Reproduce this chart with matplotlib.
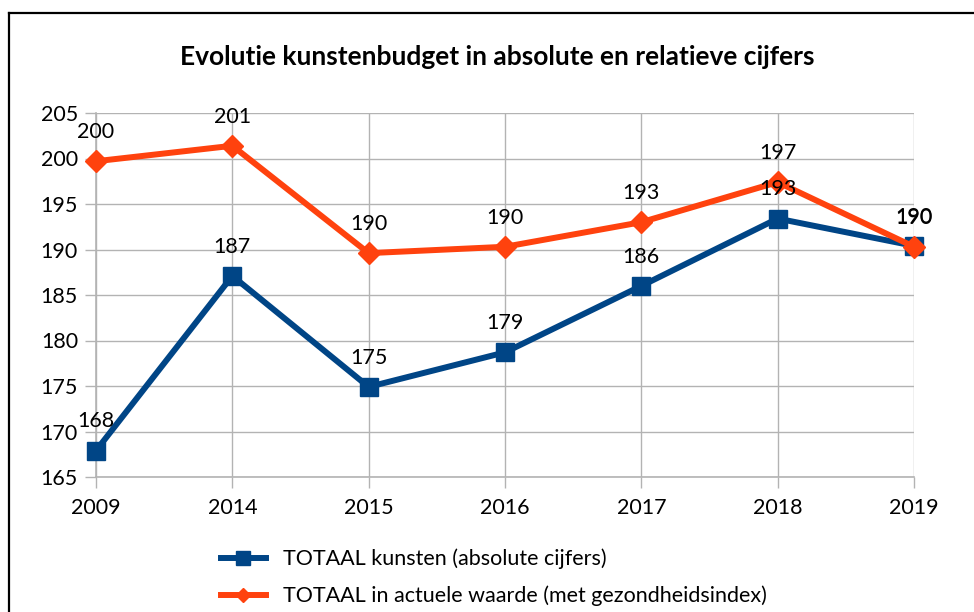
import matplotlib.pyplot as plt
import matplotlib as mpl
from matplotlib.lines import Line2D
from matplotlib.ticker import MultipleLocator

mpl.rcParams['font.family'] = ['Lato', 'DejaVu Sans']

years = ['2009', '2014', '2015', '2016', '2017', '2018', '2019']
absolute = [167.9, 187.1, 174.9, 178.7, 186.0, 193.4, 190.4]
actual = [199.7, 201.4, 189.6, 190.3, 193.0, 197.4, 190.3]
label_abs = 'TOTAAL kunsten (absolute cijfers)'
label_act = 'TOTAAL in actuele waarde (met gezondheidsindex)'
title = 'Evolutie kunstenbudget in absolute en relatieve cijfers'

blue = '#004586'
orange = '#ff420e'
grid_col = '#b3b3b3'
font = 15.5

fig = plt.figure(figsize=(9.74, 6.12), dpi=100)
ax = fig.add_axes([96 / 974, 1 - 477 / 612, (914 - 96) / 974, (477 - 113) / 612])

x = list(range(len(years)))
ax.plot(x, absolute, 's-', color=blue, linewidth=4.3, markersize=13, zorder=3, clip_on=False)
ax.plot(x, actual, 'D-', color=orange, linewidth=4.3, markersize=11, zorder=4, clip_on=False)

for xi, v in zip(x, absolute):
    ax.annotate('%d' % round(v), (xi, v), xytext=(0, 21), textcoords='offset points',
                ha='center', va='center', fontsize=font, zorder=5)
for xi, v in zip(x, actual):
    ax.annotate('%d' % round(v), (xi, v), xytext=(0, 21), textcoords='offset points',
                ha='center', va='center', fontsize=font, zorder=5)

ax.set_xlim(0, 6)
ax.set_ylim(165, 205)
ax.set_xticks(x)
ax.set_xticklabels(years)
ax.yaxis.set_major_locator(MultipleLocator(5))
ax.grid(True, color=grid_col, linewidth=1)
ax.set_axisbelow(True)
for s in ['top', 'right']:
    ax.spines[s].set_visible(False)
for s in ['left', 'bottom']:
    ax.spines[s].set_color(grid_col)
    ax.spines[s].set_linewidth(1.2)
ax.tick_params(axis='both', colors=grid_col, labelcolor='black', labelsize=font,
               length=8, width=1, pad=5)
ax.tick_params(axis='x', pad=7)

fig.text(497 / 974, 1 - 57 / 612, title, ha='center', va='center',
         fontsize=19, fontweight='bold')

handles = [Line2D([], [], color=blue, marker='s', linewidth=4.3, markersize=10),
           Line2D([], [], color=orange, marker='D', linewidth=4.3, markersize=7)]
fig.legend(handles, [label_abs, label_act], loc='upper left',
           bbox_to_anchor=(210 / 974, 1 - 538 / 612), frameon=False, fontsize=font,
           handlelength=2.1, handletextpad=0.8, labelspacing=0.75, borderpad=0)

# outer frame (cropped on right and bottom)
fig.add_artist(Line2D([9 / 974, 9 / 974], [0, 1 - 13 / 612], color='black', linewidth=1.6,
                      transform=fig.transFigure))
fig.add_artist(Line2D([9 / 974, 1], [1 - 13 / 612, 1 - 13 / 612], color='black', linewidth=1.6,
                      transform=fig.transFigure))

plt.savefig('out.png', dpi=100)
